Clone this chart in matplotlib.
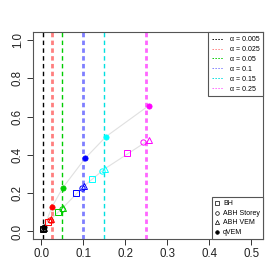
import matplotlib
matplotlib.use("Agg")
import matplotlib.pyplot as plt
from matplotlib.lines import Line2D

plt.rcParams['font.family'] = ['Liberation Sans', 'DejaVu Sans']

alphas = [0.005, 0.025, 0.05, 0.1, 0.15, 0.25]
alpha_labels = ["0.005", "0.025", "0.05", "0.1", "0.15", "0.25"]
colors = ['black', 'red', '#00cc00', 'blue', 'cyan', 'magenta']
vline_colors = ['black', '#ff7f7f', '#00cc00', '#7f7fff', '#00e0e0', '#ff66ff']
vline_widths = [1.0, 2.0, 1.0, 2.0, 1.0, 2.0]

bh_x = [0.004, 0.017, 0.040, 0.083, 0.121, 0.203]
bh_y = [0.012, 0.050, 0.102, 0.199, 0.274, 0.411]
storey_x = [0.005, 0.021, 0.048, 0.096, 0.145, 0.243]
storey_y = [0.015, 0.058, 0.116, 0.228, 0.317, 0.465]
vem_x = [0.006, 0.023, 0.051, 0.102, 0.151, 0.256]
vem_y = [0.020, 0.064, 0.123, 0.238, 0.327, 0.477]
qvem_x = [0.007, 0.0255, 0.051, 0.104, 0.154, 0.256]
qvem_y = [0.025, 0.129, 0.228, 0.381, 0.495, 0.657]

xticks = [0.0, 0.1, 0.2, 0.3, 0.4, 0.5]
yticks = [0.0, 0.2, 0.4, 0.6, 0.8, 1.0]
method_labels = ["BH", "ABH Storey", "ABH VEM", "qVEM"]

fig = plt.figure(figsize=(2.8, 2.8), dpi=100)
ax = fig.add_axes([0.117, 0.146, 0.823, 0.739])

for a, c, w in zip(alphas, vline_colors, vline_widths):
    ax.axvline(a, color=c, lw=w, ls=(0, (3.2 / w, 2.4 / w)), zorder=1)

ax.plot(qvem_x, qvem_y, color='#e0e0e0', lw=0.8, zorder=2)
ax.plot(vem_x, vem_y, color='#e0e0e0', lw=0.8, zorder=2)

ms = 3.8
for i, c in enumerate(colors):
    ax.plot(bh_x[i], bh_y[i], marker='s', ms=ms, mfc='none', mec=c, mew=0.7, ls='none', zorder=3)
    ax.plot(storey_x[i], storey_y[i], marker='o', ms=ms, mfc='none', mec=c, mew=0.7, ls='none', zorder=3)
    ax.plot(vem_x[i], vem_y[i], marker='^', ms=ms + 0.5, mfc='none', mec=c, mew=0.7, ls='none', zorder=3)
    ax.plot(qvem_x[i], qvem_y[i], marker='o', ms=ms, mfc=c, mec=c, mew=0.5, ls='none', zorder=3)

ax.set_xlim(-0.0205, 0.5286)
ax.set_ylim(-0.040, 1.040)
ax.set_xticks(xticks)
ax.set_xticklabels([f"{t:.1f}" for t in xticks])
ax.set_yticks(yticks)
ax.set_yticklabels([f"{t:.1f}" for t in yticks], rotation=90, va='center')
ax.tick_params(direction='out', length=4.5, width=0.7, labelsize=8.3, colors='#333333', pad=2)
ax.tick_params(axis='x', labelcolor='#222222')
ax.tick_params(axis='y', labelcolor='#222222')
for s in ax.spines.values():
    s.set_color('#555555')
    s.set_linewidth(0.8)

h1 = [Line2D([], [], color=c, lw=0.7, ls=(0, (1.5, 1.5))) for c in vline_colors]
l1 = [f"\u03b1 = {t}" for t in alpha_labels]
leg1 = ax.legend(h1, l1, loc='upper right', bbox_to_anchor=(1.0, 1.0), borderaxespad=0,
                 fontsize=5.0, frameon=True, fancybox=False, edgecolor='#555555', framealpha=1,
                 handlelength=1.6, handletextpad=0.9, labelspacing=0.42, borderpad=0.55)
leg1.get_frame().set_linewidth(0.8)
ax.add_artist(leg1)

h2 = [Line2D([], [], color='black', marker='s', mfc='none', ls='none', ms=2.6, mew=0.5),
      Line2D([], [], color='black', marker='o', mfc='none', ls='none', ms=2.6, mew=0.5),
      Line2D([], [], color='black', marker='^', mfc='none', ls='none', ms=3.0, mew=0.5),
      Line2D([], [], color='black', marker='o', mfc='black', ls='none', ms=2.6, mew=0.5)]
leg2 = ax.legend(h2, method_labels, loc='lower right', bbox_to_anchor=(1.0, 0.0), borderaxespad=0,
                 fontsize=5.0, frameon=True, fancybox=False, edgecolor='#555555', framealpha=1,
                 handlelength=0.6, handletextpad=0.6, labelspacing=0.36, borderpad=0.45)
leg2.get_frame().set_linewidth(0.8)

fig.savefig("out.png", dpi=100)
